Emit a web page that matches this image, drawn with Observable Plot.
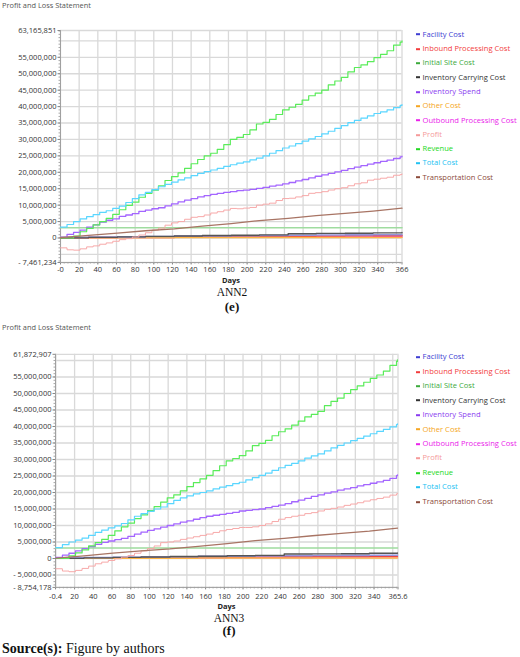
<!DOCTYPE html>
<html>
<head>
<meta charset="utf-8">
<script src="https://cdn.jsdelivr.net/npm/d3@7"></script>
<script src="https://cdn.jsdelivr.net/npm/@observablehq/plot@0.6"></script>
<style>
  html, body { margin: 0; padding: 0; background: #fff; }
  #page { position: relative; width: 520px; height: 657px; overflow: hidden; font-family: "Open Sans", "Noto Sans", sans-serif; }
  .abs { position: absolute; white-space: nowrap; }
  .title { font-size: 7.4px; color: #555; transform: translateY(-50%); }
  .days { font-size: 7.5px; font-weight: bold; color: #222; transform: translate(-50%, -50%); }
  .cap { font-family: "Liberation Serif", "Times New Roman", serif; color: #111; transform: translate(-50%, -50%); }
  .leg { font-size: 7.6px; line-height: 1; display: flex; align-items: center; transform: translateY(-50%); }
  .sw { display: inline-block; width: 4.5px; height: 2px; margin-right: 2.5px; }
  .src { font-family: "Liberation Serif", "Times New Roman", serif; font-size: 14px; color: #111; transform: translateY(-50%); }
  svg.panel { position: absolute; left: 0; }
</style>
</head>
<body>
<div id="page"></div>
<script>
// ---- series shared by both panels ----
const seriesNames = [
  "Facility Cost", "Inbound Processing Cost", "Initial Site Cost", "Inventory Carrying Cost",
  "Inventory Spend", "Other Cost", "Outbound Processing Cost", "Profit", "Revenue",
  "Total Cost", "Transportation Cost"
];
const lineColors = [
  "#9494dc", "#ee4444", "#9fdc9f", "#555555", "#a466ff", "#ffb545",
  "#ee44ee", "#f7a9a9", "#5aec5a", "#5ad6ff", "#a87464"
];
const legendColors = [
  "#3d3dd2", "#f23c3c", "#3caa3c", "#333333", "#8a3cf0", "#f5a623",
  "#ea22ea", "#f59a9a", "#22d822", "#22c2f2", "#8b4a3a"
];
// stacking order of the lines (small cost lines first, big series on top)
const drawOrder = [6, 1, 5, 0, 3, 2, 4, 7, 8, 9, 10];

// ---- panel (e): ANN2 ----
const weeklyDaysE = [
  0, 7, 14, 21, 28, 35, 42, 49, 56, 63,
  70, 77, 84, 91, 98, 105, 112, 119, 126, 133,
  140, 147, 154, 161, 168, 175, 182, 189, 196, 203,
  210, 217, 224, 231, 238, 245, 252, 259, 266, 273,
  280, 287, 294, 301, 308, 315, 322, 329, 336, 343,
  350, 357, 364, 366
];
// values in millions
const revenueE = [
  0, 0, 0.6, 1.9, 2.9, 4.0, 5.0, 6.0, 7.2, 8.6,
  9.9, 10.9, 12.4, 13.6, 14.6, 15.9, 17.5, 18.7, 19.8, 21.2,
  22.6, 23.9, 25.0, 25.8, 27.0, 28.4, 30.0, 30.6, 31.5, 32.9,
  34.7, 35.2, 36.1, 37.6, 39.0, 39.8, 40.7, 42.0, 43.3, 44.1,
  45.0, 46.6, 47.8, 48.9, 50.6, 51.9, 52.7, 53.7, 54.9, 55.9,
  57.0, 58.7, 59.6, 60.0
];
const totalCostE = [
  3.3, 4.1, 5.0, 5.8, 6.5, 7.1, 7.8, 8.3, 9.0, 9.7,
  10.8, 12.0, 13.1, 13.9, 14.7, 15.6, 16.3, 17.0, 17.7, 18.3,
  19.0, 19.7, 20.2, 20.7, 21.2, 21.8, 22.3, 22.8, 23.2, 23.8,
  24.3, 25.0, 25.8, 26.6, 27.4, 28.0, 28.7, 29.5, 30.2, 30.9,
  31.7, 32.5, 33.4, 34.2, 35.1, 35.8, 36.5, 37.2, 37.9, 38.4,
  39.0, 39.7, 40.4, 40.6
];
const profitE = [
  -3.0, -3.6, -3.7, -3.3, -2.7, -2.4, -1.9, -1.5, -1.0, -0.5,
  -0.2, 0.3, 0.9, 1.6, 2.4, 3.0, 3.9, 4.6, 5.0, 5.7,
  6.3, 6.5, 7.0, 7.6, 8.0, 8.5, 9.0, 8.9, 9.1, 9.3,
  10.0, 10.3, 10.6, 11.4, 12.0, 12.1, 12.5, 12.9, 13.6, 13.8,
  14.1, 14.6, 15.0, 15.3, 15.9, 16.5, 16.8, 17.6, 17.9, 18.2,
  18.5, 19.1, 19.3, 19.5
];
const inventorySpendE = [
  0.2, 1.1, 1.7, 2.4, 3.3, 4.0, 4.8, 5.4, 5.8, 6.6,
  7.0, 7.4, 8.1, 8.5, 8.9, 9.2, 9.8, 10.4, 11.0, 11.5,
  12.0, 12.5, 12.9, 13.3, 13.6, 13.9, 14.1, 14.4, 14.6, 14.8,
  15.1, 15.4, 15.8, 16.1, 16.5, 16.9, 17.4, 17.8, 18.3, 18.8,
  19.2, 19.7, 20.1, 20.6, 21.1, 21.6, 22.0, 22.5, 22.9, 23.3,
  23.7, 24.2, 24.7, 24.9
];
const monthDaysE = [0, 30, 61, 91, 122, 152, 183, 213, 244, 274, 305, 335, 366];
const transportE = [0.1, 0.8, 1.5, 2.2, 2.8, 3.6, 4.4, 5.3, 6.0, 6.8, 7.5, 8.2, 9.1];
const facilityE  = [0.2, 0.3, 0.35, 0.45, 0.6, 0.65, 0.7, 0.75, 0.85, 0.9, 0.95, 1.0, 1.0];
const inboundE   = [0.1, 0.15, 0.2, 0.25, 0.35, 0.4, 0.45, 0.5, 0.55, 0.6, 0.65, 0.7, 0.75];
const carryingE  = [0.05, 0.2, 0.35, 0.5, 0.6, 0.75, 0.85, 0.95, 1.3, 1.4, 1.45, 1.55, 1.65];
const otherE     = [0.1, 0.1, 0.12, 0.12, 0.13, 0.13, 0.14, 0.14, 0.15, 0.15, 0.15, 0.16, 0.16];
const outboundE  = [0.05, 0.1, 0.12, 0.15, 0.2, 0.22, 0.25, 0.28, 0.3, 0.33, 0.36, 0.38, 0.4];
const siteDaysE = [0, 366];
const initialSiteE = [3.1, 3.1];

const xDomainE = [0, 366];
const yDomainE = [-7461234, 63165851];
const xTicksE = [0, 20, 40, 60, 80, 100, 120, 140, 160, 180, 200, 220, 240, 260, 280, 300, 320, 340, 366];
const xTickLabelsE = ["-0", "20", "40", "60", "80", "100", "120", "140", "160", "180", "200", "220", "240", "260", "280", "300", "320", "340", "366"];
const xGridE = [0, 20, 40, 60, 80, 100, 120, 140, 160, 180, 200, 220, 240, 260, 280, 300, 320, 340, 360, 366];
const yTicksE = [-7461234, 0, 5e6, 10e6, 15e6, 20e6, 25e6, 30e6, 35e6, 40e6, 45e6, 50e6, 55e6, 63165851];
const yGridE = [-7461234, -5e6, 0, 5e6, 10e6, 15e6, 20e6, 25e6, 30e6, 35e6, 40e6, 45e6, 50e6, 55e6, 60e6, 63165851];

// ---- panel (f): ANN3 ----
const weeklyDaysF = [
  0, 7, 14, 21, 28, 35, 42, 49, 56, 63,
  70, 77, 84, 91, 98, 105, 112, 119, 126, 133,
  140, 147, 154, 161, 168, 175, 182, 189, 196, 203,
  210, 217, 224, 231, 238, 245, 252, 259, 266, 273,
  280, 287, 294, 301, 308, 315, 322, 329, 336, 343,
  350, 357, 364, 365
];
const revenueF = [
  0, 0, 0.8, 1.7, 2.6, 3.8, 4.8, 5.8, 7.0, 8.4,
  9.6, 10.7, 12.1, 13.2, 14.5, 15.7, 17.1, 18.4, 19.3, 20.5,
  21.8, 23.0, 24.1, 25.2, 26.6, 28.1, 29.6, 30.3, 31.2, 32.6,
  34.2, 34.9, 35.8, 37.2, 38.4, 39.3, 40.4, 41.6, 42.9, 43.7,
  44.6, 46.3, 47.6, 48.6, 50.0, 51.2, 52.3, 53.4, 54.6, 55.6,
  56.8, 58.5, 59.7, 60.2
];
const totalCostF = [
  3.3, 4.2, 5.0, 5.6, 6.2, 7.0, 7.9, 8.6, 9.3, 9.9,
  10.6, 11.7, 12.8, 13.6, 14.3, 15.0, 15.6, 16.6, 17.6, 18.4,
  19.0, 19.6, 20.0, 20.5, 21.1, 21.6, 22.1, 22.7, 23.1, 23.8,
  24.5, 25.2, 25.9, 26.7, 27.5, 28.2, 28.8, 29.6, 30.4, 31.1,
  31.7, 32.6, 33.5, 34.3, 35.0, 35.7, 36.4, 37.1, 37.8, 38.5,
  39.1, 39.9, 40.6, 40.8
];
const profitF = [
  -3.1, -3.8, -4.0, -3.6, -3.0, -2.3, -1.6, -1.1, -0.6, -0.1,
  0.4, 0.9, 1.6, 2.3, 3.0, 3.8, 4.8, 5.0, 5.3, 5.8,
  6.2, 6.6, 7.0, 7.4, 7.9, 8.4, 8.8, 9.1, 9.4, 9.4,
  9.6, 10.0, 10.5, 11.2, 11.9, 12.4, 12.8, 13.1, 13.6, 13.9,
  14.4, 14.9, 15.2, 15.6, 16.1, 16.5, 16.9, 17.4, 17.8, 18.2,
  18.6, 19.2, 19.6, 19.8
];
const inventorySpendF = [
  0.3, 1.0, 1.6, 2.3, 3.0, 3.6, 4.3, 4.9, 5.3, 5.7,
  6.1, 6.7, 7.4, 8.0, 8.5, 9.0, 9.5, 10.0, 10.5, 11.0,
  11.4, 11.9, 12.4, 12.8, 13.1, 13.4, 13.7, 14.0, 14.4, 14.6,
  14.8, 15.0, 15.4, 15.8, 16.2, 16.6, 17.2, 17.7, 18.2, 18.8,
  19.3, 19.8, 20.2, 20.7, 21.1, 21.5, 22.0, 22.4, 22.8, 23.2,
  23.7, 24.3, 25.1, 25.3
];
const monthDaysF = [0, 30, 61, 91, 122, 152, 183, 213, 244, 274, 305, 335, 365];
const transportF = [0.1, 0.8, 1.6, 2.3, 2.9, 3.7, 4.5, 5.4, 6.1, 6.9, 7.6, 8.3, 9.2];
const facilityF  = [0.2, 0.3, 0.4, 0.45, 0.55, 0.65, 0.7, 0.8, 0.85, 0.9, 0.95, 1.0, 1.05];
const inboundF   = [0.1, 0.15, 0.2, 0.3, 0.35, 0.4, 0.45, 0.5, 0.55, 0.6, 0.65, 0.7, 0.7];
const carryingF  = [0.05, 0.2, 0.35, 0.45, 0.6, 0.7, 0.85, 0.95, 1.35, 1.4, 1.45, 1.6, 1.65];
const otherF     = [0.1, 0.11, 0.12, 0.12, 0.13, 0.14, 0.14, 0.15, 0.15, 0.15, 0.16, 0.16, 0.17];
const outboundF  = [0.05, 0.1, 0.13, 0.16, 0.2, 0.23, 0.25, 0.28, 0.31, 0.33, 0.36, 0.39, 0.41];
const siteDaysF = [0, 365];
const initialSiteF = [3.2, 3.2];

const xDomainF = [-0.4, 365.6];
const yDomainF = [-8754178, 61872907];
const xTicksF = [-0.4, 20, 40, 60, 80, 100, 120, 140, 160, 180, 200, 220, 240, 260, 280, 300, 320, 340, 365.6];
const xTickLabelsF = ["-0.4", "20", "40", "60", "80", "100", "120", "140", "160", "180", "200", "220", "240", "260", "280", "300", "320", "340", "365.6"];
const xGridF = [0, 20, 40, 60, 80, 100, 120, 140, 160, 180, 200, 220, 240, 260, 280, 300, 320, 340, 360, 365.6];
const yTicksF = [-8754178, -5e6, 0, 5e6, 10e6, 15e6, 20e6, 25e6, 30e6, 35e6, 40e6, 45e6, 50e6, 55e6, 61872907];
const yGridF = [-8754178, -5e6, 0, 5e6, 10e6, 15e6, 20e6, 25e6, 30e6, 35e6, 40e6, 45e6, 50e6, 55e6, 60e6, 61872907];

// ---- drawing ----
const page = document.getElementById("page");
const fmtNum = d3.format(",");
const fmtY = d => d < 0 ? "- " + fmtNum(-d) : fmtNum(d);

function rowsOf(days, values) {
  return days.map((d, i) => ({day: d, value: values[i] * 1e6}));
}

function drawPanel(p) {
  // series in legend order: [days, values, curve, width]
  const series = [
    [p.monthDays, p.facility, "step-after", 1.6],
    [p.monthDays, p.inbound, "step-after", 1.5],
    [p.siteDays, p.initialSite, "linear", 1.6],
    [p.monthDays, p.carrying, "step-after", 1.4],
    [p.weeklyDays, p.inventorySpend, "step-after", 1.3],
    [p.monthDays, p.other, "step-after", 1.6],
    [p.monthDays, p.outbound, "step-after", 1.3],
    [p.weeklyDays, p.profit, "step-after", 1.0],
    [p.weeklyDays, p.revenue, "step-after", 1.2],
    [p.weeklyDays, p.totalCost, "step-after", 1.2],
    [p.monthDays, p.transport, "linear", 1.3]
  ];
  const labelOf = new Map(p.xTicks.map((t, i) => [t, p.xTickLabels[i]]));
  const minorY = d3.range(Math.ceil(p.yDomain[0] / 1e6) * 1e6, p.yDomain[1], 1e6);
  const minorX = d3.range(0, p.xDomain[1], 4);

  const svg = Plot.plot({
    width: 410,
    height: p.height,
    marginLeft: p.marginLeft,
    marginRight: 410 - p.xRight,
    marginTop: p.marginTop,
    marginBottom: p.marginBottom,
    style: {fontFamily: "'Open Sans', 'Noto Sans', sans-serif", fontSize: "7.5px", color: "#333", background: "transparent", overflow: "visible"},
    x: {domain: p.xDomain},
    y: {domain: p.yDomain},
    marks: [
      Plot.gridY({ticks: p.yGrid, stroke: "#d9d9d9", strokeOpacity: 1, strokeWidth: 1.3}),
      Plot.gridX({ticks: p.xGrid, stroke: "#d9d9d9", strokeOpacity: 1, strokeWidth: 1.3}),
      Plot.axisY({ticks: minorY, tickFormat: () => "", tickSize: 1.5, stroke: "#a8a8a8", label: null}),
      Plot.axisX({ticks: minorX, tickFormat: () => "", tickSize: 1.5, stroke: "#a8a8a8", label: null}),
      Plot.axisY({ticks: p.yTicks, tickFormat: fmtY, tickSize: 2.5, tickPadding: 1.5, stroke: "#888", label: null}),
      Plot.axisX({ticks: p.xTicks, tickFormat: d => labelOf.get(d), tickSize: 2.5, tickPadding: p.xPad, stroke: "#888", label: null}),
      Plot.ruleX([p.xDomain[0]], {stroke: "#a0a0a0", strokeWidth: 1}),
      Plot.ruleY([p.yDomain[0]], {stroke: "#a0a0a0", strokeWidth: 1}),
      ...drawOrder.map(i => {
        const [days, vals, curve, w] = series[i];
        return Plot.line(rowsOf(days, vals), {x: "day", y: "value", stroke: lineColors[i], strokeWidth: w, curve});
      })
    ]
  });
  svg.classList.add("panel");
  svg.style.top = p.top + "px";
  page.appendChild(svg);

  const add = (cls, text, x, y, extra = {}) => {
    const el = document.createElement("div");
    el.className = "abs " + cls;
    el.innerHTML = text;
    el.style.left = x + "px";
    el.style.top = y + "px";
    Object.assign(el.style, extra);
    page.appendChild(el);
  };
  add("title", "Profit and Loss Statement", 2, p.titleY);
  add("days", "Days", p.daysX, p.daysY);
  add("cap", p.model, p.capX, p.modelY, {fontSize: "11.5px"});
  add("cap", p.letter, p.capX, p.letterY, {fontSize: "13px", fontWeight: "bold"});

  seriesNames.forEach((name, i) => {
    add("leg", `<span class="sw" style="background:${legendColors[i]}"></span><span style="color:${legendColors[i]}">${name}</span>`,
      415.5, p.legendTop + i * p.legendStep);
  });
}

drawPanel({
  top: 0, height: 280, marginLeft: 60, xRight: 401.5, marginTop: 30, marginBottom: 18, xPad: 2,
  xDomain: xDomainE, yDomain: yDomainE, xTicks: xTicksE, xTickLabels: xTickLabelsE, xGrid: xGridE,
  yTicks: yTicksE, yGrid: yGridE,
  weeklyDays: weeklyDaysE, revenue: revenueE, totalCost: totalCostE, profit: profitE, inventorySpend: inventorySpendE,
  monthDays: monthDaysE, transport: transportE, facility: facilityE, inbound: inboundE, carrying: carryingE,
  other: otherE, outbound: outboundE, siteDays: siteDaysE, initialSite: initialSiteE,
  titleY: 5, daysX: 231, daysY: 279.5, capX: 232, model: "ANN2", modelY: 292, letter: "(e)", letterY: 306.5,
  legendTop: 34.7, legendStep: 14.3
});

drawPanel({
  top: 320, height: 280, marginLeft: 55, xRight: 397.5, marginTop: 33.8, marginBottom: 13.1, xPad: 4,
  xDomain: xDomainF, yDomain: yDomainF, xTicks: xTicksF, xTickLabels: xTickLabelsF, xGrid: xGridF,
  yTicks: yTicksF, yGrid: yGridF,
  weeklyDays: weeklyDaysF, revenue: revenueF, totalCost: totalCostF, profit: profitF, inventorySpend: inventorySpendF,
  monthDays: monthDaysF, transport: transportF, facility: facilityF, inbound: inboundF, carrying: carryingF,
  other: otherF, outbound: outboundF, siteDays: siteDaysF, initialSite: initialSiteF,
  titleY: 326.5, daysX: 226.5, daysY: 605.5, capX: 229, model: "ANN3", modelY: 618, letter: "(f)", letterY: 630.5,
  legendTop: 357.3, legendStep: 14.45
});

// source line
const src = document.createElement("div");
src.className = "abs src";
src.style.left = "2px";
src.style.top = "649px";
src.innerHTML = "<b>Source(s):</b> Figure by authors";
page.appendChild(src);
</script>
</body>
</html>
